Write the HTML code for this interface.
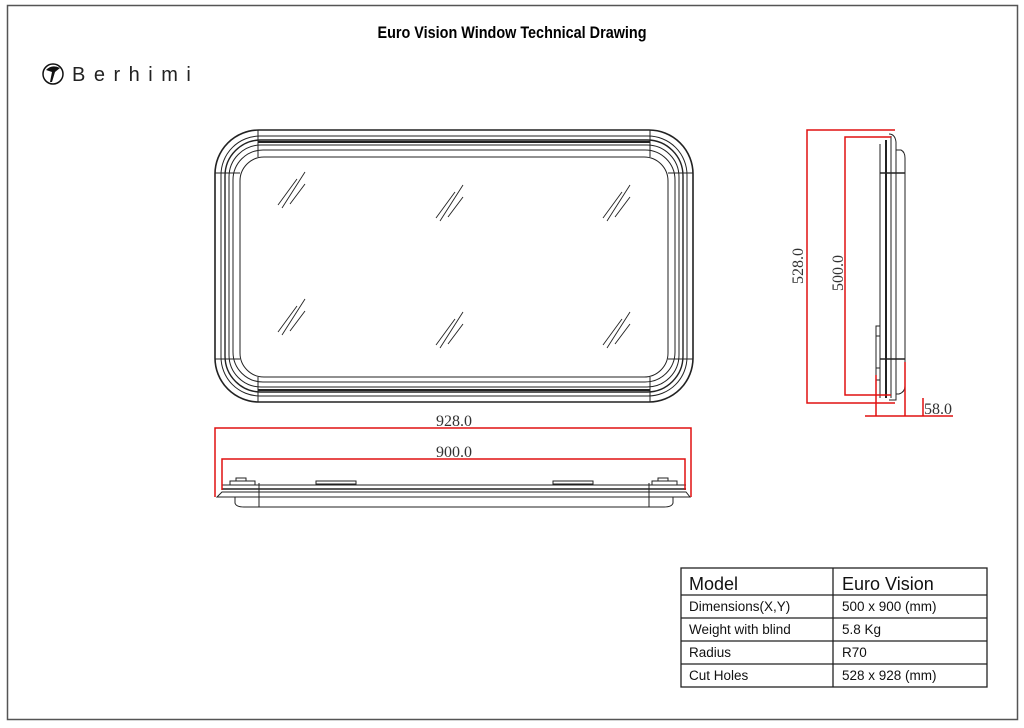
<!DOCTYPE html>
<html><head><meta charset="utf-8"><style>
html,body{margin:0;padding:0;background:#fff;width:1024px;height:728px;overflow:hidden}
svg{display:block}
</style></head><body>
<svg width="1024" height="728" viewBox="0 0 1024 728" xmlns="http://www.w3.org/2000/svg">
<rect x="7.5" y="5.5" width="1010" height="714" fill="none" stroke="#555" stroke-width="1.5"/>
<text x="512" y="38" text-anchor="middle" font-family="Liberation Sans, sans-serif" font-weight="bold" font-size="17" textLength="269" lengthAdjust="spacingAndGlyphs">Euro Vision Window Technical Drawing</text>
<!-- logo -->
<circle cx="53" cy="74" r="10" fill="none" stroke="#111" stroke-width="1.5"/>
<path d="M46 70 Q52 64 60 68 L55 72 L52 82 L50 82 L52 72 Z" fill="#111"/>
<text x="72" y="81" font-family="Liberation Sans, sans-serif" font-size="20" letter-spacing="8.5" fill="#222">Berhimi</text>

<!-- front view -->
<g fill="none" stroke="#222" stroke-width="1">
<rect x="215" y="130" width="478" height="272" rx="44" stroke-width="1.6"/>
<rect x="221" y="136" width="466" height="260" rx="39"/>
<rect x="225" y="140" width="458" height="252" rx="36" stroke-width="1.4"/>
<rect x="229" y="145" width="450" height="242" rx="32"/>
<rect x="233" y="150" width="442" height="232" rx="30"/>
<rect x="240" y="157" width="428" height="220" rx="24"/>
<line x1="258" y1="130" x2="258" y2="157"/><line x1="650" y1="130" x2="650" y2="157"/>
<line x1="258" y1="377" x2="258" y2="402"/><line x1="650" y1="377" x2="650" y2="402"/>
<line x1="215" y1="173" x2="240" y2="173"/><line x1="668" y1="173" x2="693" y2="173"/>
<line x1="215" y1="359" x2="240" y2="359"/><line x1="668" y1="359" x2="693" y2="359"/>
<line x1="258" y1="142" x2="650" y2="142" stroke-width="2"/>
<line x1="258" y1="390" x2="650" y2="390" stroke-width="2"/>
</g>
<g stroke="#222" stroke-width="0.9">
<g id="h"><line x1="278" y1="205" x2="297" y2="179"/><line x1="282" y1="208" x2="305" y2="172"/><line x1="290" y1="204" x2="305" y2="184"/></g>
<use href="#h" x="158" y="13"/><use href="#h" x="325" y="13"/>
<use href="#h" x="0" y="127"/><use href="#h" x="158" y="140"/><use href="#h" x="325" y="140"/>
</g>
<text x="454" y="426" text-anchor="middle" font-family="Liberation Serif, serif" font-size="16" fill="#333">928.0</text>

<!-- bottom view -->
<g fill="none" stroke="#222" stroke-width="1">
<path d="M217 497 L690 497 L686 492 L222 492 Z"/>
<path d="M222 485 L686 485"/>
<path d="M235 497 L235 503 Q236 507 244 507 L664 507 Q672 507 673 503 L673 497"/>
<line x1="259" y1="483" x2="259" y2="507"/><line x1="649" y1="483" x2="649" y2="507"/>
<rect x="230" y="481" width="25" height="4"/><rect x="652" y="481" width="25" height="4"/>
<rect x="316" y="481" width="40" height="3"/><rect x="553" y="481" width="40" height="3"/>
<rect x="236" y="478" width="10" height="3"/><rect x="658" y="478" width="10" height="3"/>
<line x1="222" y1="489" x2="686" y2="489" stroke-width="1.4"/>
</g>
<g fill="none" stroke="#e01010" stroke-width="1.5">
<path d="M215 497 L215 428 L691 428 L691 497"/>
<path d="M222 490 L222 459 L685 459 L685 490"/>
</g>
<text x="454" y="457" text-anchor="middle" font-family="Liberation Serif, serif" font-size="16" fill="#333">900.0</text>

<!-- side view -->
<g fill="none" stroke="#222" stroke-width="1">
<path d="M880 144 L880 398"/>
<path d="M886 140 L886 398" stroke-width="2"/>
<path d="M889 134 Q895 134 896 142 L896 400 L889 400"/>
<path d="M891 136 L891 398"/>
<path d="M896 150 L901 150 Q905 152 905 158 L905 386 Q905 392 899 394 L896 394"/>
<line x1="880" y1="173" x2="905" y2="173" stroke-width="1.4"/>
<line x1="880" y1="359" x2="905" y2="359" stroke-width="1.4"/>
<rect x="876" y="326" width="4" height="10"/><rect x="876" y="368" width="4" height="12"/>
<line x1="876" y1="336" x2="876" y2="368"/>
</g>
<g fill="none" stroke="#e01010" stroke-width="1.5">
<path d="M895 130 L807 130 L807 403 L895 403"/>
<path d="M891 137 L845 137 L845 395 L891 395"/>
<line x1="865" y1="416" x2="953" y2="416"/>
<line x1="876" y1="375" x2="876" y2="416"/>
<line x1="905" y1="362" x2="905" y2="416"/>
<line x1="923" y1="398" x2="923" y2="416"/>
</g>
<text transform="translate(803 266) rotate(-90)" text-anchor="middle" font-family="Liberation Serif, serif" font-size="16" fill="#333">528.0</text>
<text transform="translate(843 273) rotate(-90)" text-anchor="middle" font-family="Liberation Serif, serif" font-size="16" fill="#333">500.0</text>
<text x="924" y="414" font-family="Liberation Serif, serif" font-size="16" fill="#333">58.0</text>

<!-- table -->
<g fill="none" stroke="#222" stroke-width="1.3">
<rect x="681" y="568" width="306" height="119"/>
<line x1="681" y1="595" x2="987" y2="595"/><line x1="681" y1="618" x2="987" y2="618"/>
<line x1="681" y1="641" x2="987" y2="641"/><line x1="681" y1="664" x2="987" y2="664"/>
<line x1="833" y1="568" x2="833" y2="687"/>
</g>
<g font-family="Liberation Sans, sans-serif" fill="#111">
<text x="689" y="590" font-size="18">Model</text>
<text x="842" y="590" font-size="18">Euro Vision</text>
<g font-size="13.5">
<text x="689" y="611">Dimensions(X,Y)</text><text x="842" y="611">500 x 900 (mm)</text>
<text x="689" y="634">Weight with blind</text><text x="842" y="634">5.8 Kg</text>
<text x="689" y="657">Radius</text><text x="842" y="657">R70</text>
<text x="689" y="680">Cut Holes</text><text x="842" y="680">528 x 928 (mm)</text>
</g></g>
</svg>
</body></html>
